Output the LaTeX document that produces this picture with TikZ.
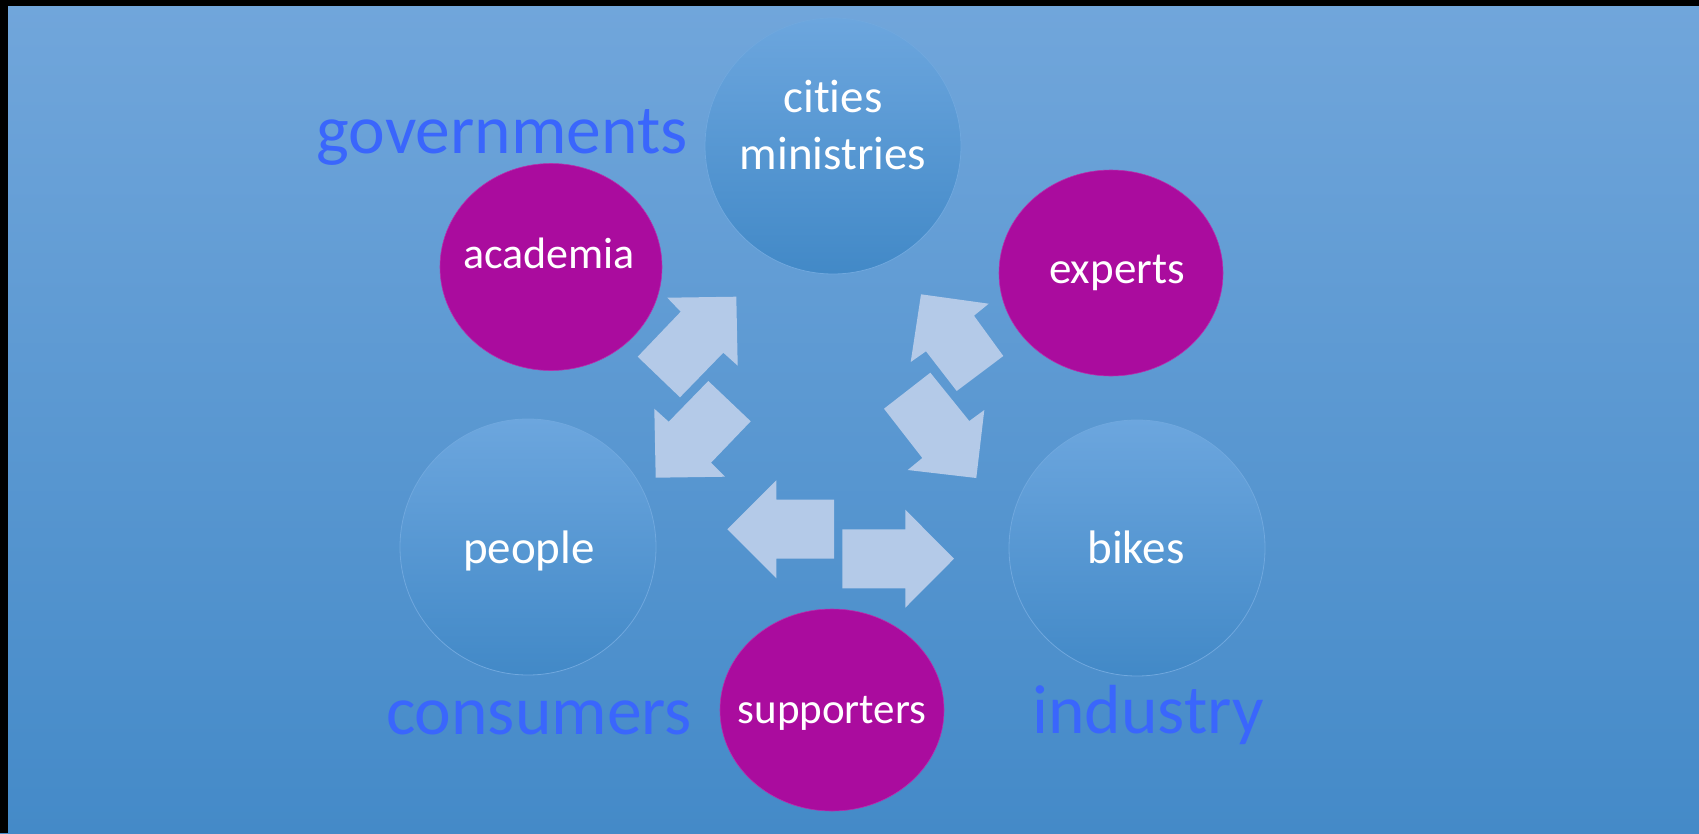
\documentclass[tikz,border=0pt]{standalone}
\usepackage{fontspec}
\setmainfont{Carlito}[Ligatures=NoCommon]
\usetikzlibrary{shapes.geometric}
\definecolor{bgtop}{RGB}{113,166,219}
\definecolor{bgmid}{RGB}{86,154,218}
\definecolor{bgbot}{RGB}{68,138,200}
\definecolor{ctop}{RGB}{108,166,222}
\definecolor{cbot}{RGB}{66,137,199}
\definecolor{crim}{RGB}{112,168,222}
\definecolor{purp}{RGB}{170,12,158}
\definecolor{arrowc}{RGB}{180,202,232}
\definecolor{lblue}{RGB}{58,102,252}
\tikzset{
  bluecirc/.style={circle, minimum size=256pt, inner sep=0pt, top color=ctop, bottom color=cbot, draw=crim, line width=0.8pt},
  purpell/.style={ellipse, inner sep=0pt, fill=purp, draw=purp!85!white, line width=0.6pt},
  intext/.style={text=white, anchor=base, font=\fontsize{47}{57}\selectfont},
  purptext/.style={text=white, anchor=base, font=\fontsize{44}{53}\selectfont},
  grouplbl/.style={text=lblue, anchor=base, font=\fontsize{69.5}{83}\selectfont},
  blockarrow/.style={fill=arrowc, draw=none}
}
\begin{document}
\begin{tikzpicture}[x=1pt,y=-1pt]
\useasboundingbox (0,0) rectangle (1699,833);
\shade[top color=bgtop, middle color=bgmid, bottom color=bgbot] (0,0) rectangle (1699,833);
\fill[black] (0,0) rectangle (8,833);
\fill[black] (0,0) rectangle (1699,6);

% blue circles
\node[bluecirc] (cities) at (833,146) {};
\node[bluecirc] (people) at (528,547) {};
\node[bluecirc] (bikes) at (1137,548) {};

% purple ellipses
\node[purpell, minimum width=222pt, minimum height=207pt] (academia) at (551,267) {};
\node[purpell, minimum width=224pt, minimum height=206pt] (experts) at (1111,273) {};
\node[purpell, minimum width=224pt, minimum height=202pt] (supporters) at (832,710) {};

% texts in circles
\node[intext] (tcities) at (833,112) {cities};
\node[intext] (tmin) at (833,169) {ministries};
\node[intext] (tpeople) at (529,563) {people};
\node[intext] (tbikes) at (1136,563) {bikes};
\node[purptext] (tacad) at (549,268) {academia};
\node[purptext, font=\fontsize{45}{54}\selectfont] (texp) at (1117,283) {experts};
\node[purptext, font=\fontsize{43}{52}\selectfont] (tsup) at (832,723) {supporters};

% group labels
\node[grouplbl] (gov) at (502,153) {governments};
\node[grouplbl] (cons) at (539,734) {consumers};
\node[grouplbl] (ind) at (1148,733) {industry};

% block arrows
\fill[blockarrow] (667.3,297.7) -- (736.3,296.7) -- (737.7,365.7) -- (723.3,352.7) -- (680,397.3) -- (637.7,356.7) -- (680.7,311.7) -- cycle;
\fill[blockarrow] (708.3,381) -- (750.7,421.3) -- (711,462.7) -- (725,476.7) -- (655.7,477.7) -- (654.3,408.7) -- (668.7,421.7) -- cycle;
\fill[blockarrow] (921,294.3) -- (988.7,303.7) -- (974,315.7) -- (1003.3,356) -- (956.7,391) -- (926,351.3) -- (910.7,362) -- cycle;
\fill[blockarrow] (930.3,372.7) -- (969.3,421) -- (984.3,410) -- (976.3,478) -- (907.7,470) -- (922.3,458) -- (884,408.7) -- cycle;
\fill[blockarrow] (727.3,529.3) -- (776.3,480.3) -- (776.3,499.7) -- (834,499.7) -- (834,558.7) -- (776.3,558.7) -- (776.3,578.3) -- cycle;
\fill[blockarrow] (842.3,529.3) -- (905.3,529.3) -- (905.3,509.7) -- (954,558.7) -- (905.3,607.7) -- (905.3,588.3) -- (842.3,588.3) -- cycle;
\end{tikzpicture}
\end{document}
